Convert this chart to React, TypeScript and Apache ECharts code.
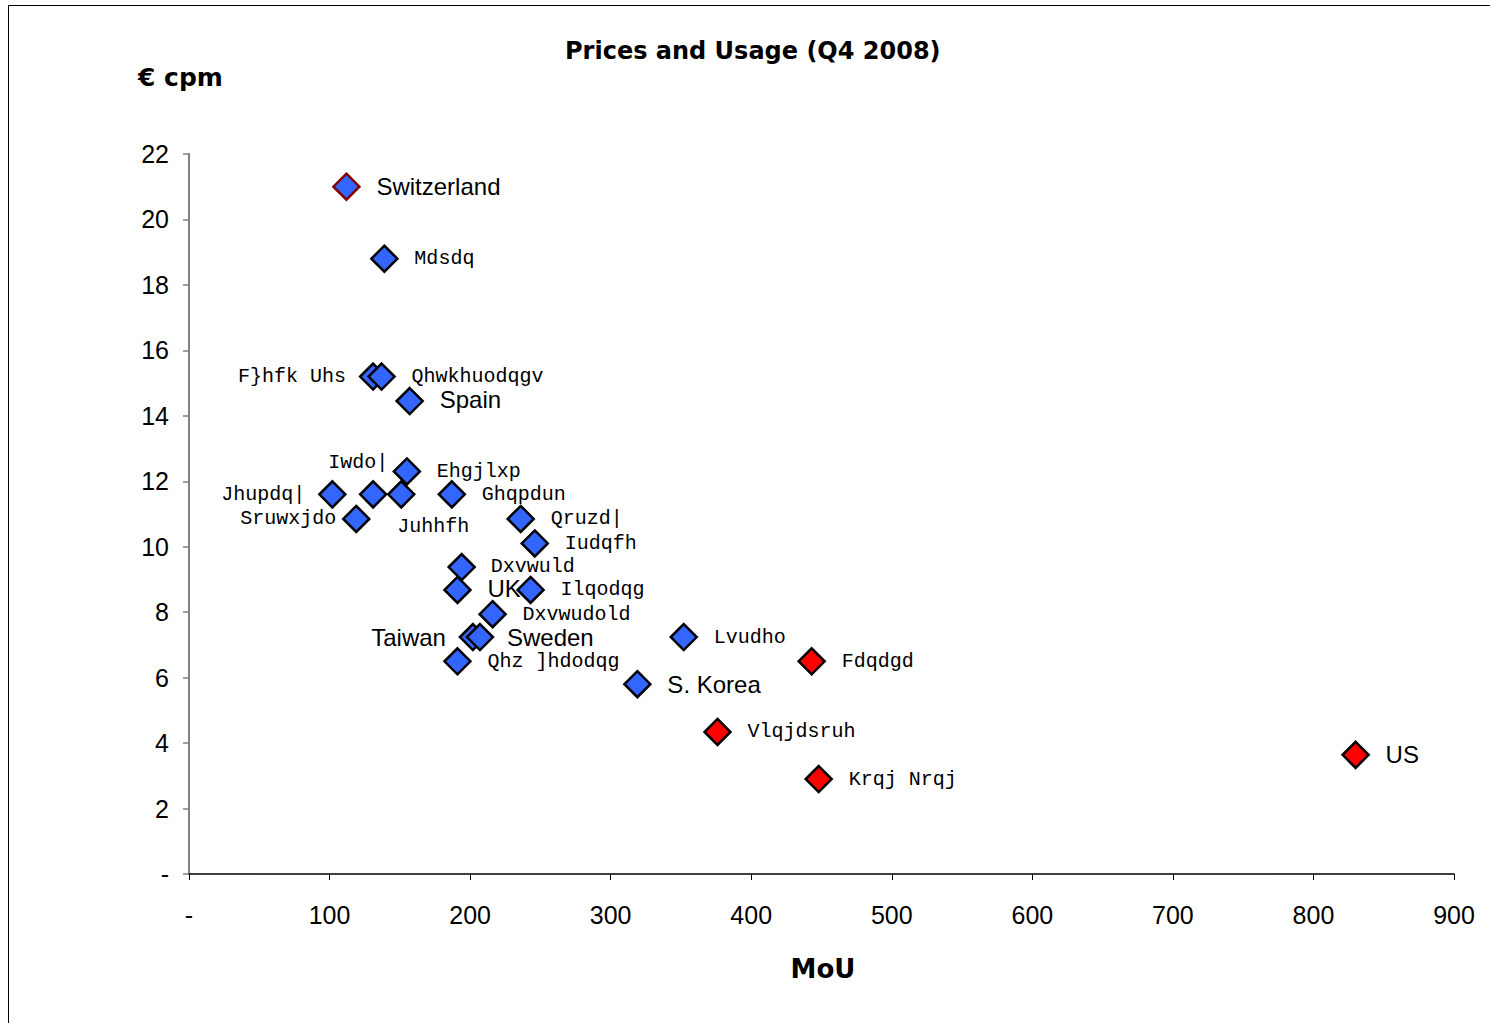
import React, { useEffect, useRef } from "react";
import * as echarts from "echarts";

// Country labels as they appear on the chart
const labels = [
  "Switzerland", "Mdsdq", "F}hfk Uhs", "Qhwkhuodqgv", "Spain", "Ehgjlxp", "Iwdo|",
  "Jhupdq|", "Juhhfh", "Ghqpdun", "Sruwxjdo", "Qruzd|", "Iudqfh", "Dxvwuld", "UK",
  "Ilqodqg", "Dxvwudold", "Taiwan", "Sweden", "Qhz ]hdodqg", "Lvudho", "S. Korea",
  "Fdqdgd", "Vlqjdsruh", "Krqj Nrqj", "US",
];
// Minutes of use per month
const mou = [
  112, 139, 131, 137, 157, 155, 131, 102, 151, 187, 119, 236, 246, 194, 191,
  243, 216, 202, 207, 191, 352, 319, 443, 376, 448, 830,
];
// Price, euro cents per minute
const cpm = [
  21.0, 18.8, 15.2, 15.2, 14.45, 12.3, 11.6, 11.6, 11.6, 11.6, 10.85, 10.85, 10.1,
  9.38, 8.68, 8.68, 7.94, 7.24, 7.24, 6.5, 7.24, 5.8, 6.5, 4.34, 2.9, 3.64,
];
// Group: "eu" = blue, "other" = red
const groups = [
  "eu", "eu", "eu", "eu", "eu", "eu", "eu", "eu", "eu", "eu", "eu", "eu", "eu",
  "eu", "eu", "eu", "eu", "eu", "eu", "eu", "eu", "eu", "other", "other", "other", "other",
];
// Labels rendered in a plain sans font (the rest use a monospace font)
const sansLabels = ["Switzerland", "Spain", "UK", "Taiwan", "Sweden", "S. Korea", "US"];

const xTicks = [0, 100, 200, 300, 400, 500, 600, 700, 800, 900];
const yTicks = [0, 2, 4, 6, 8, 10, 12, 14, 16, 18, 20, 22];

// Label placement (layout, not data): [dx, dy, align]
const labelLayout: Record<string, [number, number, string]> = {
  "F}hfk Uhs": [-27, 0, "right"],
  "Jhupdq|": [-27, 0, "right"],
  "Sruwxjdo": [-20, 0, "right"],
  "Taiwan": [-27, 0, "right"],
  "Iwdo|": [-45, -32, "left"],
  "Juhhfh": [-4, 32, "left"],
  "Sweden": [27, 0, "left"],
  "Spain": [30, -2, "left"],
  "UK": [30, -1, "left"],
  "Dxvwuld": [29, -1, "left"],
};

const BLUE = "#3366FF";
const RED = "#FF0000";
const SANS = "Liberation Sans, Arial, sans-serif";
const MONO = "Liberation Mono, Courier New, monospace";
const TITLE_FONT = "DejaVu Sans, Liberation Sans, sans-serif";

function buildData(group: string) {
  const out: any[] = [];
  labels.forEach((name, i) => {
    if (groups[i] !== group) return;
    const lay = labelLayout[name] || [30, 0, "left"];
    const sans = sansLabels.includes(name);
    const item: any = {
      name,
      value: [mou[i], cpm[i]],
      label: {
        show: true,
        position: "inside",
        align: lay[2],
        verticalAlign: "middle",
        offset: [lay[0], lay[1]],
        formatter: name,
        color: "#000",
        fontFamily: sans ? SANS : MONO,
        fontSize: sans ? 24 : 20,
        letterSpacing: sans ? -1.2 : 0,
      },
    };
    if (name === "Switzerland") {
      item.itemStyle = { color: BLUE, borderColor: "#800000" };
    }
    out.push(item);
  });
  return out;
}

export default function App() {
  const ref = useRef<HTMLDivElement>(null);
  useEffect(() => {
    if (!ref.current) return;
    const chart = echarts.init(ref.current, null, { renderer: "svg" });
    const axisFont = { fontFamily: SANS, fontSize: 25, color: "#000" };
    chart.setOption({
      animation: false,
      backgroundColor: "#fff",
      grid: { left: 189, right: 36, top: 154, bottom: 149 },
      xAxis: {
        type: "value",
        min: xTicks[0],
        max: xTicks[xTicks.length - 1],
        interval: 100,
        splitLine: { show: false },
        axisLine: { show: true, onZero: false, lineStyle: { color: "#000", width: 1.5 } },
        axisTick: { show: true, length: 6, lineStyle: { color: "#000" } },
        axisLabel: {
          ...axisFont,
          margin: 28,
          formatter: (v: number) => (v === 0 ? "-" : String(v)),
        },
      },
      yAxis: {
        type: "value",
        min: yTicks[0],
        max: yTicks[yTicks.length - 1],
        interval: 2,
        splitLine: { show: false },
        axisLine: { show: true, onZero: false, lineStyle: { color: "#808080", width: 2 } },
        axisTick: { show: true, length: 6, lineStyle: { color: "#808080", width: 1.5 } },
        axisLabel: {
          ...axisFont,
          margin: 20,
          formatter: (v: number) => (v === 0 ? "-" : String(v)),
        },
      },
      series: [
        {
          type: "scatter",
          symbol: "diamond",
          symbolSize: 26,
          itemStyle: { color: BLUE, borderColor: "#000", borderWidth: 2.5, opacity: 1 },
          data: buildData("eu"),
          z: 2,
        },
        {
          type: "scatter",
          symbol: "diamond",
          symbolSize: 26,
          itemStyle: { color: RED, borderColor: "#000", borderWidth: 2.5, opacity: 1 },
          data: buildData("other"),
          z: 3,
        },
      ],
      graphic: [
        {
          type: "rect",
          shape: { x: 8.5, y: 5.5, width: 1600, height: 1200 },
          style: { fill: "none", stroke: "#000", lineWidth: 1 },
          silent: true,
        },
        {
          type: "text",
          x: 565,
          y: 51,
          style: {
            text: "Prices and Usage (Q4 2008)",
            font: `bold 24px ${TITLE_FONT}`,
            fill: "#000",
            verticalAlign: "middle",
          },
        },
        {
          type: "text",
          x: 138,
          y: 77,
          style: {
            text: "€ cpm",
            font: `bold 25px ${TITLE_FONT}`,
            fill: "#000",
            verticalAlign: "middle",
          },
        },
        {
          type: "text",
          x: 823,
          y: 969,
          style: {
            text: "MoU",
            font: `bold 26px ${TITLE_FONT}`,
            fill: "#000",
            align: "center",
            verticalAlign: "middle",
          },
        },
      ],
    });
    return () => chart.dispose();
  }, []);
  return (
    <div
      ref={ref}
      style={{ position: "absolute", left: 0, top: 0, width: 1490, height: 1023 }}
    />
  );
}
